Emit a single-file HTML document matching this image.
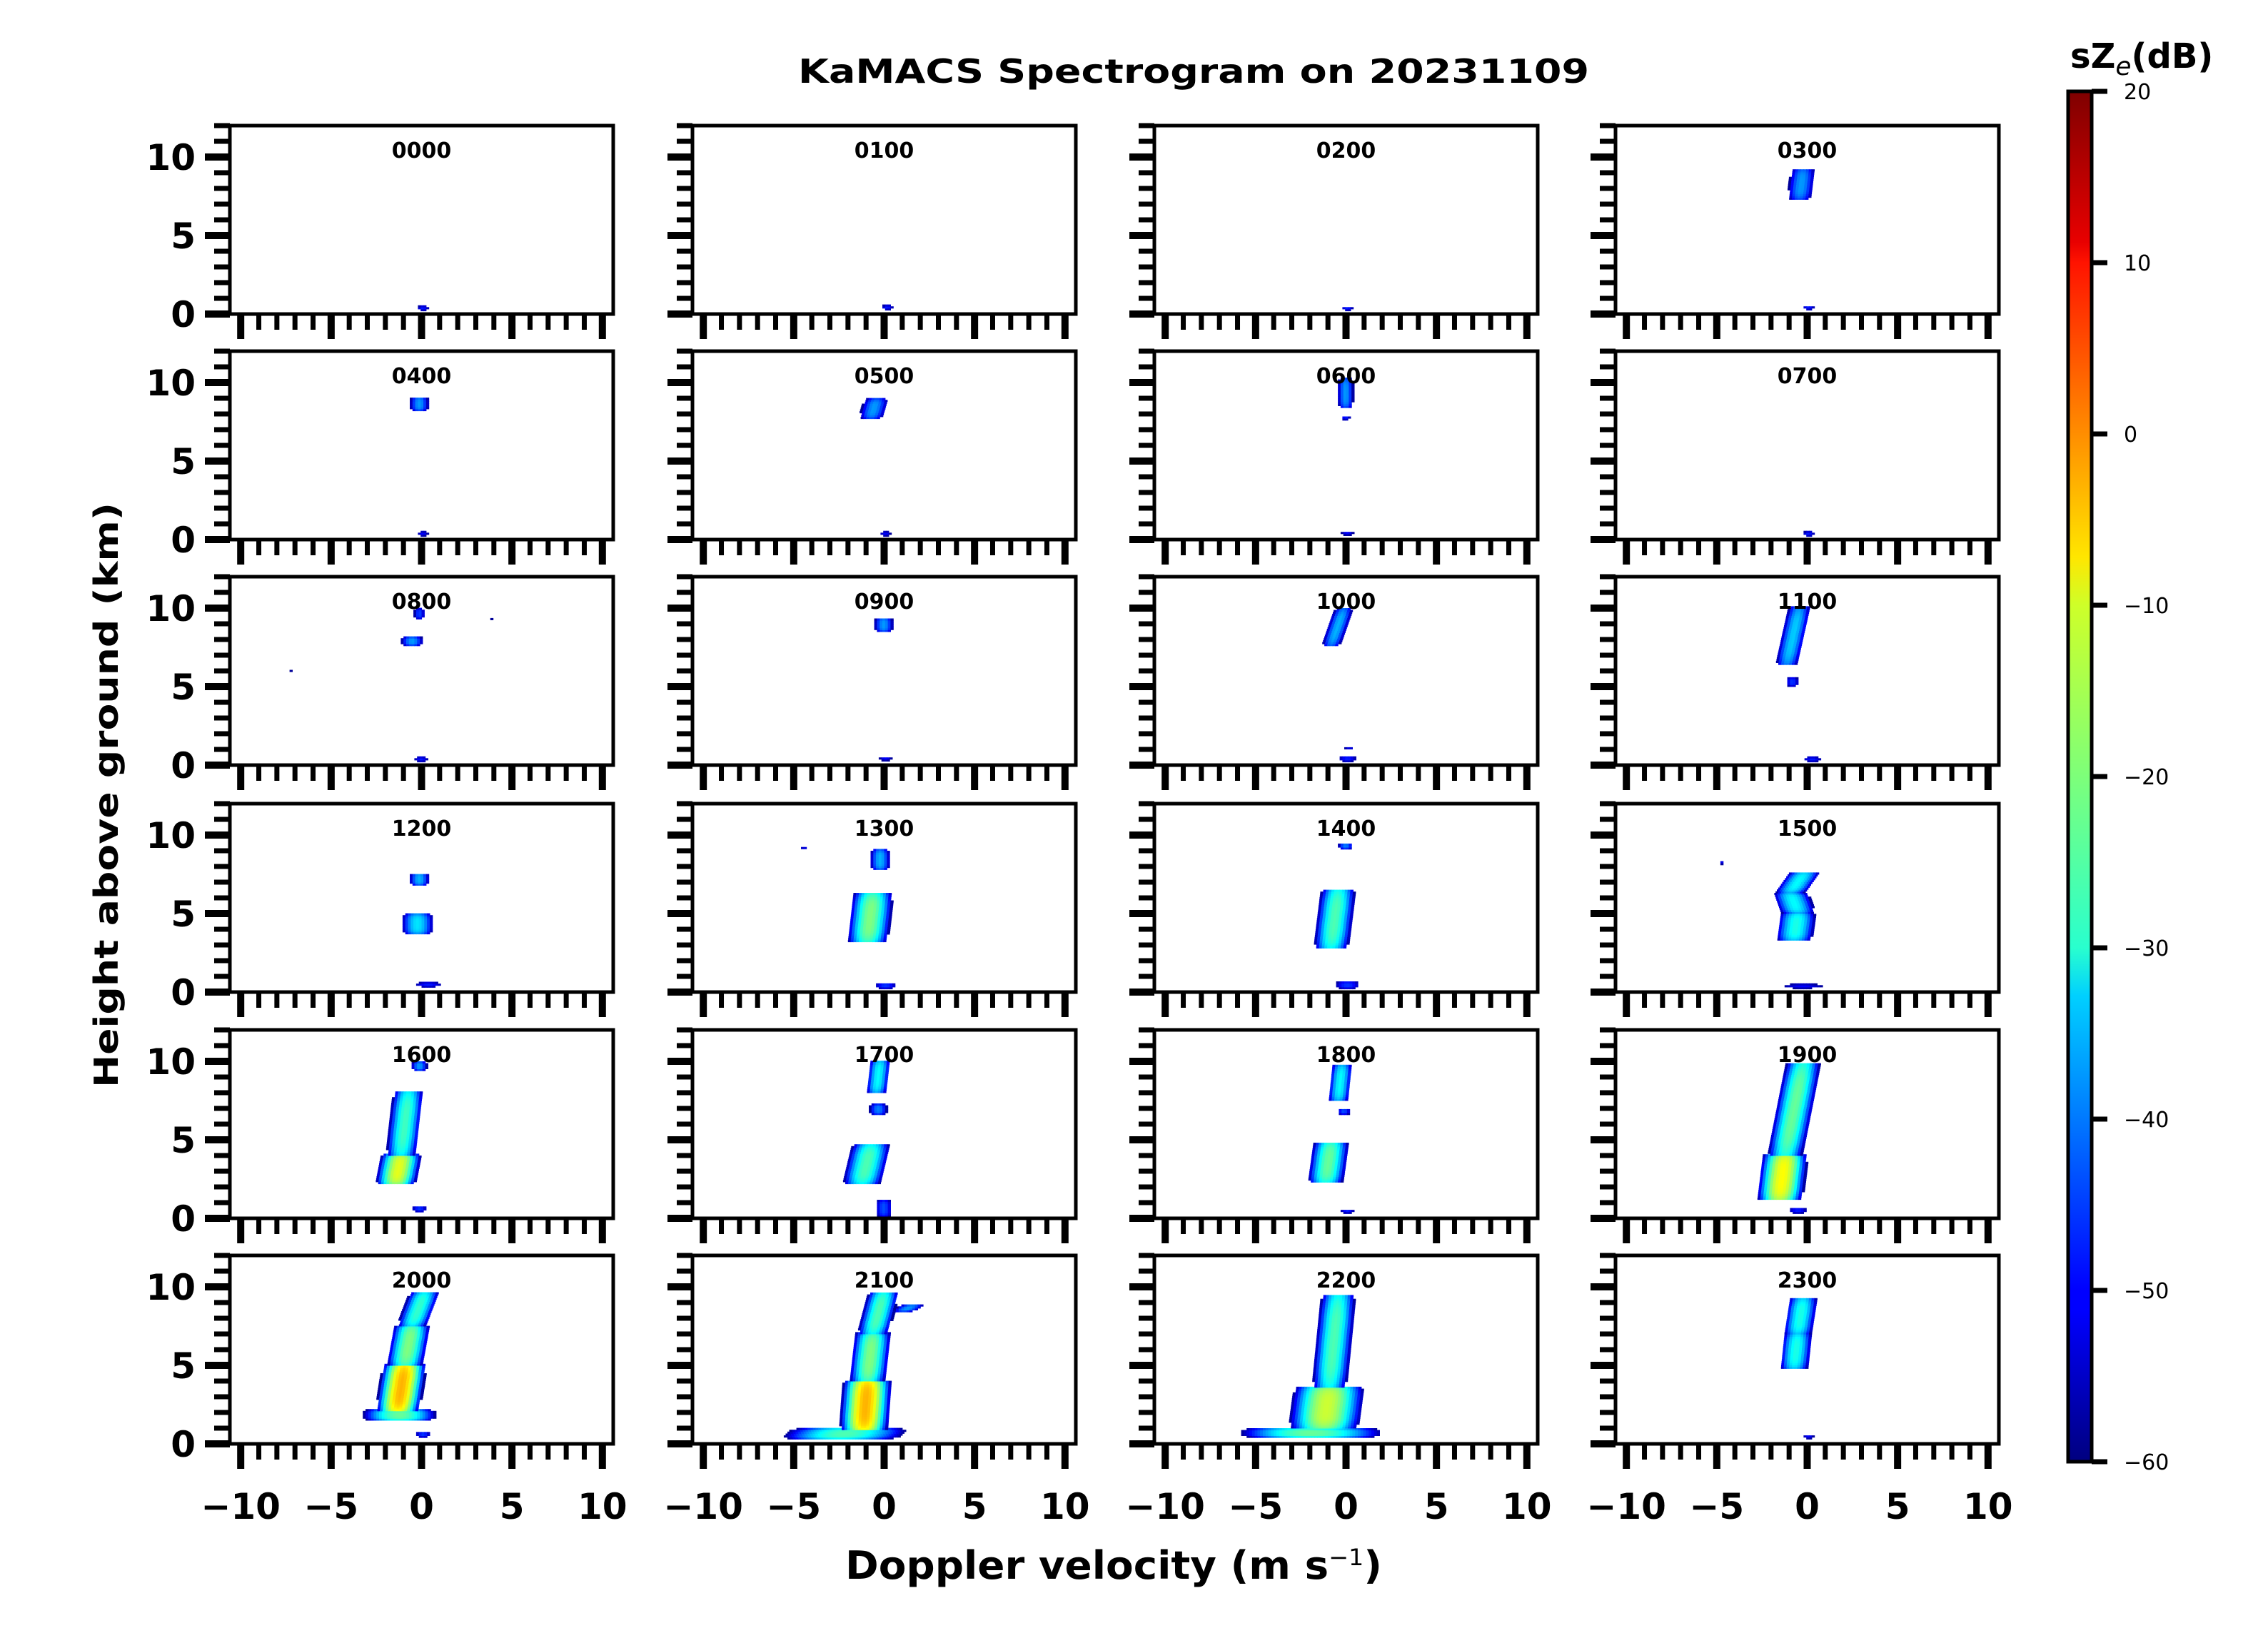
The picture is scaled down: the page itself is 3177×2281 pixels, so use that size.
<!DOCTYPE html>
<html><head><meta charset="utf-8"><style>
html,body{margin:0;padding:0;background:#fff}
svg{display:block}
text{font-family:"DejaVu Sans","Liberation Sans",sans-serif}
</style></head><body>
<svg id="fig" width="3177" height="2281" viewBox="0 0 3177 2281" xmlns="http://www.w3.org/2000/svg">
<defs>
<linearGradient id="jet" x1="0" y1="1" x2="0" y2="0">
<stop offset="0" stop-color="#00007f"/><stop offset="0.11" stop-color="#0000ff"/><stop offset="0.125" stop-color="#0000ff"/>
<stop offset="0.34" stop-color="#00d0ff"/><stop offset="0.375" stop-color="#29ffce"/><stop offset="0.5" stop-color="#7dff7a"/>
<stop offset="0.625" stop-color="#ceff29"/><stop offset="0.66" stop-color="#ffe600"/><stop offset="0.875" stop-color="#ff1300"/>
<stop offset="0.89" stop-color="#e80000"/><stop offset="1" stop-color="#7f0000"/>
</linearGradient>
</defs>
<text x="1672" y="116" text-anchor="middle" font-size="46" font-weight="bold" textLength="1108" lengthAdjust="spacingAndGlyphs">KaMACS Spectrogram on 20231109</text>
<text transform="translate(165,1114) rotate(-90)" text-anchor="middle" font-size="46" font-weight="bold" textLength="820" lengthAdjust="spacingAndGlyphs">Height above ground (km)</text>
<text x="1560" y="2212" text-anchor="middle" font-size="54" font-weight="bold" textLength="752" lengthAdjust="spacingAndGlyphs">Doppler velocity (m s<tspan baseline-shift="super" font-size="32" font-weight="normal">−1</tspan>)</text>
<g id="panels"></g>
<g id="colorbar">
<rect x="2897" y="128" width="33" height="1920" fill="url(#jet)" stroke="#000" stroke-width="5"/>
<text x="2900" y="95" font-size="48" font-weight="bold">sZ<tspan font-size="36" font-weight="normal" font-style="italic" dy="10">e</tspan><tspan dy="-10">(dB)</tspan></text>
</g>
</svg>
<script>
const panelTimes = ["0000","0100","0200","0300","0400","0500","0600","0700","0800","0900","1000","1100","1200","1300","1400","1500","1600","1700","1800","1900","2000","2100","2200","2300"];
// layer: [hBottom km, hTop km, vBottom m/s, vTop m/s, halfWidth m/s, peak dB]
const p0000 = [[0.2,0.45,0,0,0.5,-48]];
const p0100 = [[0.25,0.5,0.1,0.1,0.5,-48]];
const p0200 = [[0.2,0.4,0,0,0.5,-48]];
const p0300 = [[7.3,9.2,-0.5,-0.3,0.8,-38],[0.25,0.45,0,0,0.5,-48]];
const p0400 = [[8.2,9.0,-0.2,-0.2,0.6,-38],[0.2,0.45,0,0,0.5,-50]];
const p0500 = [[7.7,8.9,-0.8,-0.5,0.8,-38],[0.2,0.45,0,0,0.5,-50]];
const p0600 = [[8.4,10.2,-0.1,-0.1,0.5,-38],[7.6,7.8,-0.1,-0.1,0.4,-48],[0.25,0.45,0,0,0.6,-50]];
const p0700 = [[0.2,0.45,0,0,0.5,-48]];
const p0800 = [[7.6,8.1,-0.6,-0.6,0.7,-38],[9.3,9.9,-0.2,-0.2,0.4,-45],[5.95,6.05,-7.3,-7.3,0.6,-52],[9.25,9.35,3.8,3.8,0.3,-52],[0.2,0.45,-0.1,-0.1,0.6,-48]];
const p0900 = [[8.5,9.3,-0.1,-0.1,0.6,-38],[0.25,0.45,0,0,0.6,-50]];
const p1000 = [[7.6,9.9,-0.9,-0.2,0.6,-36],[0.9,1.1,0.1,0.1,0.5,-52],[0.2,0.5,0,0,0.8,-48]];
const p1100 = [[6.4,10.0,-1.2,-0.5,0.7,-34],[5.0,5.5,-0.9,-0.9,0.5,-46],[0.2,0.45,0.2,0.2,0.8,-48]];
const p1200 = [[6.8,7.5,-0.2,-0.2,0.6,-36],[3.7,4.9,-0.3,-0.3,0.9,-32],[0.3,0.55,0.3,0.3,1.2,-48]];
const p1300 = [[3.2,6.2,-1.0,-0.7,1.0,-20],[7.8,9.0,-0.3,-0.3,0.6,-36],[9.0,9.2,-4.5,-4.5,0.4,-52],[10.0,10.1,-5,-5,0.3,-55],[0.2,0.5,0,0,0.9,-46],[0.9,1.0,-0.6,-0.6,0.4,-52]];
const p1400 = [[2.8,6.5,-0.9,-0.5,0.9,-24],[9.1,9.4,-0.1,-0.1,0.5,-40],[0.2,0.6,0,0,1.0,-46]];
const p1500 = [[3.3,5.0,-0.8,-0.6,1.0,-28],[5.0,6.3,-0.6,-1.0,1.0,-30],[6.3,7.6,-1.0,-0.2,0.9,-30],[8.1,8.3,-4.8,-4.8,0.3,-52],[0.2,0.45,-0.3,-0.3,2.0,-50]];
const p1600 = [[2.2,4.0,-1.5,-1.2,0.9,-12],[4.0,8.0,-1.2,-0.8,0.8,-25],[9.4,9.9,-0.2,-0.2,0.5,-38],[0.4,0.7,-0.2,-0.2,0.6,-46]];
const p1700 = [[2.2,4.6,-1.3,-0.8,1.0,-24],[6.6,7.2,-0.4,-0.4,0.6,-40],[8.0,10.0,-0.5,-0.3,0.6,-30],[0.1,1.1,-0.1,-0.1,0.6,-44]];
const p1800 = [[2.3,4.8,-1.2,-0.9,0.9,-22],[6.6,6.9,-0.2,-0.2,0.5,-44],[7.5,9.7,-0.5,-0.3,0.6,-30],[0.3,0.5,0,0,0.6,-48]];
const p1900 = [[1.2,4.0,-1.6,-1.3,1.0,-10],[4.0,9.8,-1.3,-0.3,0.9,-22],[0.3,0.6,-0.6,-0.6,0.8,-48]];
const p2000 = [[1.5,2.1,-1.3,-1.3,1.8,-22],[2.1,5.0,-1.4,-1.0,0.9,-4],[5.0,7.5,-1.0,-0.6,0.9,-20],[7.5,9.6,-0.6,0.1,0.8,-26],[0.4,0.7,0,0,0.6,-46]];
const p2100 = [[0.3,0.9,-2.5,-2.0,3.0,-24],[0.9,4.0,-1.2,-1.0,1.0,-4],[4.0,7.0,-1.0,-0.7,0.9,-20],[7.0,9.6,-0.7,-0.1,0.8,-24],[8.4,8.8,1.0,1.5,0.8,-38]];
const p2200 = [[0.4,0.9,-2.0,-2.0,3.5,-22],[1.0,3.6,-1.3,-1.0,1.6,-14],[3.6,9.4,-1.0,-0.5,0.9,-24]];
const p2300 = [[4.8,7.0,-0.8,-0.6,0.8,-28],[7.0,9.2,-0.6,-0.3,0.8,-28],[0.3,0.5,0,0,0.5,-50]];
const panelLayers = [p0000,p0100,p0200,p0300,p0400,p0500,p0600,p0700,p0800,p0900,p1000,p1100,p1200,p1300,p1400,p1500,p1600,p1700,p1800,p1900,p2000,p2100,p2200,p2300];
const xTickLabels = [-10,-5,0,5,10];
const yTickLabels = [0,5,10];
const cbTickLabels = [20,10,0,-10,-20,-30,-40,-50,-60];

const NS = "http://www.w3.org/2000/svg";
const colLeft = [322,970,1617,2263], rowTop = [176,492,808,1126,1443,1759];
const PW = 537, PH = 264, XMIN = -10.6, XMAX = 10.6, YMAX = 12;
function mk(tag, attrs, parent){const e=document.createElementNS(NS,tag);for(const k in attrs)e.setAttribute(k,attrs[k]);parent.appendChild(e);return e;}
function jet(t){t=Math.max(0,Math.min(1,t));
  const r=Math.max(0,Math.min(1,1.5-Math.abs(4*t-3))),g=Math.max(0,Math.min(1,1.5-Math.abs(4*t-2))),b=Math.max(0,Math.min(1,1.5-Math.abs(4*t-1)));
  return "rgb("+Math.round(r*255)+","+Math.round(g*255)+","+Math.round(b*255)+")";}
const fmt = v => (v<0?"−":"")+Math.abs(v);
const root = document.getElementById("panels");
panelTimes.forEach((tm,i)=>{
  const c=i%4, r=Math.floor(i/4), L=colLeft[c], T=rowTop[r], B=T+PH;
  const xs = v => L+(v-XMIN)/(XMAX-XMIN)*PW;
  const ys = h => B-h/YMAX*PH;
  const g = mk("g",{},root);
  
  
  const data = mk("g",{},g);
  
  
  panelLayers[i].forEach(([h0,h1,v0,v1,hw,pk])=>{
    const dh=0.12, dv=0.15;
    for(let h=h0; h<h1+1e-9; h+=dh){
      const t=(h1>h0)?(h-h0)/(h1-h0):0.5;
      const vc=v0+(v1-v0)*t;
      const vtaper=6*Math.pow(2*t-1,4);
      for(let v=vc-2.5*hw; v<=vc+2.5*hw; v+=dv){
        const db=pk-30*Math.pow((v-vc)/hw,2)-vtaper;
        if(db<-58||v<XMIN||v>XMAX) continue;
        const rc=mk("rect",{x:xs(v).toFixed(1),y:ys(h+dh).toFixed(1),width:(dv/(XMAX-XMIN)*PW+0.6).toFixed(1),height:(dh/YMAX*PH+0.5).toFixed(1),fill:jet((db+60)/80)},data);
        
        
      }
    }
  });
  const fr=mk("rect",{x:L,y:T,width:PW,height:PH,fill:"none",stroke:"#000","stroke-width":5},g);
  
  
  const tt=mk("text",{x:L+PW/2,y:T+45,"text-anchor":"middle","font-size":30,"font-weight":"bold"},g);
  tt.textContent=tm;
  
  
  for(let v=-10; v<=10; v++){
    const maj=v%5===0;
    const tk=mk("line",{x1:xs(v),x2:xs(v),y1:B,y2:B+(maj?35:22),stroke:"#000","stroke-width":maj?10:7},g);
    
    
  }
  for(let h=0; h<=12; h++){
    const maj=h%5===0;
    const tk=mk("line",{x1:L-(maj?35:22),x2:L,y1:ys(h),y2:ys(h),stroke:"#000","stroke-width":maj?10:7},g);
    
    
  }
  if(r===5){xTickLabels.forEach(v=>{
    const tl=mk("text",{x:xs(v),y:2128,"text-anchor":"middle","font-size":50,"font-weight":"bold"},g);
    tl.textContent=fmt(v);
    
    
  });}
  if(c===0){yTickLabels.forEach(h=>{
    const tl=mk("text",{x:L-48,y:ys(h)+18,"text-anchor":"end","font-size":50,"font-weight":"bold"},g);
    tl.textContent=fmt(h);
    
    
  });}
});
const cb=document.getElementById("colorbar");
const cbY = d => 128+(20-d)/80*1920;
cbTickLabels.forEach(d=>{
  const tk=mk("line",{x1:2930,x2:2952,y1:cbY(d),y2:cbY(d),stroke:"#000","stroke-width":7},cb);
  
  
  const tl=mk("text",{x:2975,y:cbY(d)+11,"font-size":30},cb);
  tl.textContent=fmt(d);
  
  
});
</script>
</body></html>
